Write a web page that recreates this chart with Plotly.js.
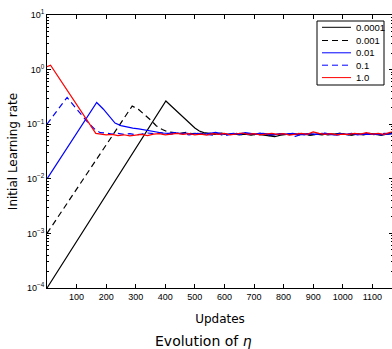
<!DOCTYPE html>
<html><head><meta charset="utf-8">
<script src="https://cdn.plot.ly/plotly-3.0.1.min.js"></script>
<style>html,body{margin:0;padding:0;overflow:hidden;background:#fff;width:392px;height:349px}#chart{width:395px;height:349px}</style>
</head><body><div id="chart"></div>
<script>
// ---- data ----
const seriesNames = ['0.0001', '0.001', '0.01', '0.1', '1.0'];
const seriesColors = ['#000000', '#000000', '#0000ff', '#0000ff', '#ff0000'];
const seriesDash = ['solid', '6px,4px', 'solid', '6px,4px', 'solid'];

const x_0001 = [0,402,420,440,460,480,500,515,530,550,570,590,610,630,650,670,690,710,730,750,770,790,810,830,850,870,890,910,930,950,970,990,1010,1030,1050,1070,1090,1110,1130,1150,1170];
const y_0001 = [0.0001,0.266,0.215,0.17,0.135,0.105,0.085,0.075,0.07,0.068,0.066,0.069,0.065,0.067,0.064,0.066,0.063,0.066,0.064,0.061,0.059,0.063,0.065,0.067,0.064,0.066,0.063,0.065,0.067,0.064,0.066,0.068,0.065,0.063,0.066,0.064,0.067,0.065,0.063,0.066,0.067];

const x_001 = [0,288,310,330,350,370,390,410,430,450,470,490,510,530,550,570,590,610,630,650,670,690,710,730,750,770,790,810,830,850,870,890,910,930,950,970,990,1010,1030,1050,1070,1090,1110,1130,1150,1170];
const y_001 = [0.001,0.215,0.185,0.15,0.12,0.093,0.08,0.072,0.070,0.068,0.071,0.067,0.069,0.066,0.068,0.065,0.067,0.064,0.066,0.068,0.065,0.067,0.063,0.066,0.062,0.065,0.067,0.064,0.066,0.068,0.065,0.063,0.066,0.064,0.067,0.065,0.068,0.066,0.064,0.067,0.065,0.068,0.066,0.064,0.067,0.068];

const x_01 = [0,168,190,210,230,250,270,290,310,330,350,370,390,410,430,450,470,490,510,530,550,570,590,610,630,650,670,690,710,730,750,770,790,810,830,850,870,890,910,930,950,970,990,1010,1030,1050,1070,1090,1110,1130,1150,1170];
const y_01 = [0.01,0.25,0.19,0.14,0.105,0.094,0.088,0.085,0.082,0.078,0.074,0.071,0.069,0.068,0.070,0.067,0.069,0.066,0.068,0.065,0.069,0.071,0.067,0.065,0.068,0.066,0.070,0.067,0.065,0.068,0.066,0.064,0.067,0.065,0.068,0.066,0.064,0.067,0.065,0.068,0.066,0.064,0.067,0.065,0.068,0.064,0.066,0.065,0.067,0.064,0.066,0.067];

const x_1 = [0,68,100,140,165,180,200,220,240,260,280,300,320,340,360,380,400,420,440,460,480,500,520,540,560,580,600,620,640,660,680,700,720,740,760,780,800,820,840,860,880,900,920,940,960,980,1000,1020,1040,1060,1080,1100,1120,1140,1160,1170];
const y_1 = [0.1,0.31,0.19,0.105,0.078,0.07,0.069,0.066,0.068,0.065,0.067,0.064,0.066,0.069,0.067,0.070,0.068,0.066,0.069,0.067,0.064,0.066,0.068,0.065,0.063,0.067,0.061,0.065,0.068,0.064,0.067,0.065,0.069,0.066,0.063,0.066,0.064,0.067,0.060,0.065,0.067,0.064,0.066,0.069,0.065,0.063,0.066,0.064,0.067,0.065,0.068,0.064,0.066,0.068,0.067,0.069];

const x_10 = [0,12,165,180,200,220,240,260,280,300,320,340,360,380,400,420,440,460,480,500,520,540,560,580,600,620,640,660,680,700,720,740,760,780,800,820,840,860,880,900,920,940,960,980,1000,1020,1040,1060,1080,1100,1120,1140,1160,1170];
const y_10 = [1.13,1.2,0.068,0.066,0.064,0.065,0.062,0.064,0.061,0.063,0.065,0.062,0.066,0.067,0.064,0.066,0.068,0.065,0.067,0.064,0.066,0.063,0.067,0.065,0.068,0.064,0.066,0.069,0.065,0.067,0.064,0.066,0.068,0.065,0.067,0.063,0.066,0.068,0.065,0.072,0.068,0.065,0.067,0.064,0.066,0.065,0.068,0.066,0.070,0.066,0.068,0.065,0.071,0.072];

const xTickVals = [100,200,300,400,500,600,700,800,900,1000,1100];
const xTickText = ['100','200','300','400','500','600','700','800','900','1000','1100'];
const yTickVals = [1e-4,1e-3,1e-2,1e-1,1,10];
const yTickText = ['10<sup>−4</sup>','10<sup>−3</sup>','10<sup>−2</sup>','10<sup>−1</sup>','10<sup>0</sup>','10<sup>1</sup>'];

const xs = [x_0001, x_001, x_01, x_1, x_10];
const ys = [y_0001, y_001, y_01, y_1, y_10];

// minor log ticks (2..9 in each decade)
const yMinor = [];
for (let d = -4; d <= 0; d++) for (let m = 2; m <= 9; m++) yMinor.push(m * Math.pow(10, d));

// ---- layout geometry (pixels -> paper) ----
const L = 47, T = 15, W = 346, H = 273;
const PX = p => (p - L) / W;
const PY = p => (T + H - p) / H;

const traces = seriesNames.map((n, i) => ({
  type: 'scatter', mode: 'lines', name: n, x: xs[i], y: ys[i],
  line: {color: seriesColors[i], width: 1.2, dash: seriesDash[i]},
  hoverinfo: 'x+y+name'
}));

// custom legend (matching the reference box)
const legRows = [27.3, 40.5, 52.8, 65.2, 77.6];
const shapes = [{type: 'rect', xref: 'paper', yref: 'paper', x0: PX(317), x1: PX(384), y0: PY(21), y1: PY(85),
  line: {color: '#000', width: 1}, fillcolor: '#fff', layer: 'above'}];
const annotations = [];
seriesNames.forEach((n, i) => {
  shapes.push({type: 'line', xref: 'paper', yref: 'paper', x0: PX(322), x1: PX(351), y0: PY(legRows[i]), y1: PY(legRows[i]),
    line: {color: seriesColors[i], width: 1, dash: seriesDash[i]}, layer: 'above'});
  annotations.push({xref: 'paper', yref: 'paper', x: PX(354), y: PY(legRows[i]), xanchor: 'left', yanchor: 'middle',
    text: n, showarrow: false, font: {family: 'Liberation Sans, Arial, sans-serif', size: 9.5, color: '#000'}});
});
annotations.push({xref: 'paper', yref: 'paper', x: PX(203), y: PY(341), xanchor: 'center', yanchor: 'middle',
  text: 'Evolution of <i>η</i>', showarrow: false, font: {family: 'DejaVu Sans, sans-serif', size: 14, color: '#000'}});

const tickFont = {family: 'Liberation Sans, Arial, sans-serif', size: 9, color: '#000'};
const titleFont = {family: 'DejaVu Sans, sans-serif', size: 12, color: '#000'};

const layout = {
  width: 395, height: 349,
  margin: {l: L, r: 395 - L - W, t: T, b: 349 - T - H, pad: 0},
  paper_bgcolor: '#fff', plot_bgcolor: '#fff',
  showlegend: false,
  xaxis: {range: [0, 1170], tickmode: 'array', tickvals: xTickVals, ticktext: xTickText,
    ticks: 'inside', ticklen: 4, tickwidth: 1, tickcolor: '#000',
    showline: true, linecolor: '#000', linewidth: 1, mirror: 'allticks',
    showgrid: false, zeroline: false, tickfont: tickFont,
    title: {text: 'Updates', font: titleFont, standoff: 13}},
  yaxis: {type: 'log', range: [-4, 1], tickmode: 'array', tickvals: yTickVals, ticktext: yTickText,
    ticks: 'inside', ticklen: 4, tickwidth: 1, tickcolor: '#000',
    minor: {tickmode: 'array', tickvals: yMinor, ticks: 'inside', ticklen: 2, tickcolor: '#000', showgrid: false},
    showline: true, linecolor: '#000', linewidth: 1, mirror: 'allticks',
    showgrid: false, zeroline: false, tickfont: tickFont,
    title: {text: 'Initial Learning rate', font: titleFont, standoff: 6}},
  shapes: shapes,
  annotations: annotations
};

Plotly.newPlot('chart', traces, layout, {displayModeBar: false, staticPlot: true});
</script>
</body></html>
